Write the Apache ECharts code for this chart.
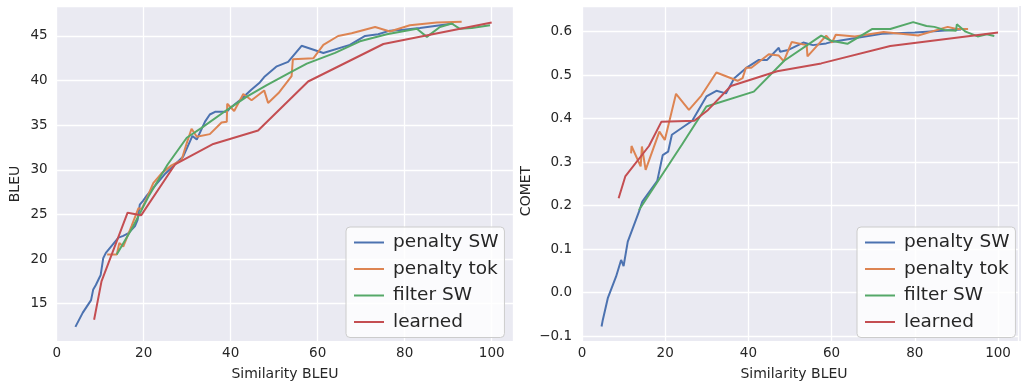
<!DOCTYPE html>
<html>
<head>
<meta charset="utf-8">
<script src="https://cdn.jsdelivr.net/npm/echarts@6/dist/echarts.min.js"></script>
<style>
  html, body { margin: 0; padding: 0; background: #ffffff; }
  #chart { width: 1021px; height: 383px; }
</style>
</head>
<body>
<div id="chart"></div>
<script>
// Series names shared by both panels
const seriesNames = ['penalty SW', 'penalty tok', 'filter SW', 'learned'];
const seriesColors = ['#4C72B0', '#DD8452', '#55A868', '#C44E52'];

// Axis tick values
const xTicks = [0, 20, 40, 60, 80, 100];
const bleuTicks = [15, 20, 25, 30, 35, 40, 45];
const cometTicks = [-0.1, 0.0, 0.1, 0.2, 0.3, 0.4, 0.5, 0.6];

// BLEU vs. similarity BLEU, [similarity, score]
const bleuPenaltySW = [[4.3,12.4],[6.0,14.0],[7.9,15.4],[8.4,16.6],[9.0,17.1],[9.8,17.9],[10.1,18.2],[10.7,20.1],[11.3,20.7],[14.2,22.4],[15.3,22.6],[16.5,22.9],[18.0,23.7],[18.6,24.4],[19.1,26.1],[19.8,26.5],[20.7,27.1],[25.0,29.6],[29.1,31.5],[31.2,33.8],[32.2,33.4],[34.1,35.4],[35.2,36.2],[36.4,36.5],[39.1,36.5],[39.8,36.9],[42.1,37.8],[44.8,39.0],[46.7,39.8],[47.7,40.4],[50.6,41.6],[53.2,42.1],[56.3,43.9],[61.3,43.1],[67.4,44.0],[70.9,45.0],[73.9,45.2],[76.6,45.6],[79.7,45.7],[83.5,45.9],[91.2,46.4]];
const bleuPenaltyTok = [[11.6,20.5],[13.8,20.5],[14.4,21.8],[15.3,21.4],[17.2,23.7],[18.8,25.7],[19.5,25.6],[20.7,26.8],[22.2,28.5],[24.1,29.6],[26.4,30.5],[28.7,31.1],[29.9,33.0],[31.0,34.6],[32.2,33.7],[35.2,34.0],[37.9,35.3],[39.1,35.4],[39.2,37.4],[40.8,36.6],[42.9,38.5],[44.8,37.8],[47.7,38.9],[48.6,37.5],[51.0,38.6],[54.0,40.5],[54.3,42.4],[59.0,42.5],[61.3,44.0],[64.7,45.0],[67.8,45.3],[73.2,46.0],[76.6,45.5],[81.2,46.2],[87.4,46.5],[93.1,46.6]];
const bleuFilterSW = [[13.8,20.5],[17.5,23.6],[21.1,27.0],[25.5,30.6],[29.9,33.6],[33.3,34.7],[39.1,36.7],[43.7,38.2],[48.3,39.5],[53.6,40.9],[57.5,41.9],[64.0,43.1],[69.7,44.4],[75.9,45.2],[82.8,45.8],[85.1,44.9],[88.1,46.0],[90.8,46.4],[92.7,45.8],[95.4,45.9],[99.6,46.2]];
const bleuLearned = [[8.6,13.2],[10.3,17.5],[16.3,25.2],[19.4,24.9],[27.2,30.6],[36.0,32.9],[46.3,34.4],[57.8,39.9],[75.1,44.1],[100.0,46.5]];

// COMET vs. similarity BLEU, [similarity, score]
const cometPenaltySW = [[4.7,-0.078],[5.0,-0.063],[6.2,-0.013],[8.2,0.037],[9.4,0.075],[10.0,0.061],[11.0,0.117],[13.7,0.186],[14.5,0.209],[18.1,0.257],[19.4,0.316],[20.7,0.324],[21.6,0.363],[26.5,0.395],[29.9,0.451],[32.3,0.464],[34.6,0.458],[36.6,0.493],[39.4,0.516],[42.5,0.535],[44.5,0.535],[47.3,0.563],[47.6,0.554],[49.6,0.558],[53.2,0.575],[55.5,0.569],[58.7,0.573],[60.3,0.577],[72.1,0.595],[80.0,0.598],[91.1,0.605]];
const cometPenaltyTok = [[11.8,0.320],[11.9,0.337],[14.1,0.290],[14.4,0.336],[15.3,0.282],[18.6,0.370],[19.9,0.351],[22.6,0.457],[25.7,0.420],[28.7,0.453],[32.3,0.506],[37.4,0.487],[38.6,0.493],[39.4,0.517],[40.7,0.517],[44.9,0.548],[47.3,0.545],[48.5,0.532],[50.4,0.576],[54.0,0.569],[54.2,0.543],[58.7,0.591],[60.1,0.575],[61.0,0.593],[65.6,0.589],[72.5,0.599],[80.8,0.591],[87.9,0.611],[90.0,0.606],[92.8,0.606]];
const cometFilterSW = [[13.7,0.190],[24.0,0.340],[29.9,0.428],[41.3,0.462],[48.6,0.533],[57.5,0.591],[59.9,0.579],[63.8,0.572],[69.7,0.606],[74.1,0.606],[79.6,0.622],[82.8,0.613],[84.7,0.611],[87.1,0.604],[89.9,0.602],[90.1,0.617],[92.2,0.600],[95.1,0.589],[97.3,0.594],[99.1,0.590]];
const cometLearned = [[8.8,0.217],[10.4,0.267],[16.1,0.337],[19.1,0.393],[27.0,0.395],[30.3,0.420],[35.8,0.475],[46.9,0.509],[57.5,0.527],[74.1,0.567],[100.0,0.598]];

const bleuSeries = [bleuPenaltySW, bleuPenaltyTok, bleuFilterSW, bleuLearned];
const cometSeries = [cometPenaltySW, cometPenaltyTok, cometFilterSW, cometLearned];

const FONT = "'DejaVu Sans', 'Liberation Sans', sans-serif";
const TEXT = '#262626';
const PANEL = '#EAEAF2';
const LINE_W = 2;

// Panel rectangles (pixel frame of each axes area)
const panels = [
  { x: 56.7, y: 6, w: 456.3, h: 335 },
  { x: 582, y: 6, w: 442.8, h: 335 }
];

function near(v, list) {
  for (const t of list) if (Math.abs(v - t) < 1e-6) return t;
  return null;
}
function fmtMinus(s) { return s.replace('-', '\u2212'); }

const chart = echarts.init(document.getElementById('chart'), null, { renderer: 'canvas' });

function xAxisFor(gridIndex, max, offset) {
  return {
    type: 'value', gridIndex, min: 0, max, interval: 20, offset,
    axisLine: { show: false }, axisTick: { show: false },
    axisLabel: {
      margin: 5, fontSize: 13.5, color: TEXT, fontFamily: FONT,
      formatter: v => { const t = near(v, xTicks); return t === null ? '' : String(t); }
    },
    splitLine: { show: true, lineStyle: { color: '#ffffff', width: 1.3 } }
  };
}

function axisTitle(text, x, y, vertical) {
  return {
    type: 'text', x, y, z: 100, silent: true,
    rotation: vertical ? Math.PI / 2 : 0,
    style: { text, align: 'center', verticalAlign: 'middle', fontSize: 14, fontFamily: FONT, fill: TEXT }
  };
}

const option = {
  backgroundColor: '#ffffff',
  animation: false,
  grid: [
    { left: 56.7, top: 6, width: 456.3, height: 342.3, containLabel: false },
    { left: 582, top: 6, width: 442.8, height: 373.5, containLabel: false }
  ],
  xAxis: [
    xAxisFor(0, 104.9, -7.3),
    xAxisFor(1, 104.8, -38.5)
  ],
  yAxis: [
    {
      type: 'value', gridIndex: 0, min: 10, max: 48.36, interval: 5,
      axisLine: { show: false }, axisTick: { show: false },
      axisLabel: {
        margin: 9, fontSize: 13.5, color: TEXT, fontFamily: FONT,
        formatter: v => { const t = near(v, bleuTicks); return t === null ? '' : String(t); }
      },
      splitLine: { show: true, lineStyle: { color: '#ffffff', width: 1.3 } }
    },
    {
      type: 'value', gridIndex: 1, min: -0.2, max: 0.659, interval: 0.1,
      axisLine: { show: false }, axisTick: { show: false },
      axisLabel: {
        margin: 10, fontSize: 13.5, color: TEXT, fontFamily: FONT,
        formatter: v => { const t = near(v, cometTicks); return t === null ? '' : fmtMinus(t.toFixed(1)); }
      },
      splitLine: { show: true, lineStyle: { color: '#ffffff', width: 1.3 } }
    }
  ],
  legend: [0, 1].map(i => ({
    orient: 'vertical',
    left: i === 0 ? 346 : 857,
    top: 227,
    data: seriesNames,
    itemWidth: 30,
    itemHeight: 14,
    itemGap: 5.5,
    padding: [5, 6, 5, 7],
    backgroundColor: 'rgba(255,255,255,0.8)',
    borderColor: '#cccccc',
    borderWidth: 1,
    borderRadius: 4,
    selectedMode: false,
    itemStyle: { opacity: 0 },
    lineStyle: { width: LINE_W },
    textStyle: { fontSize: 18.5, color: TEXT, fontFamily: FONT, lineHeight: 21, padding: [0, 0, 0, 4] }
  })),
  graphic: [
    ...panels.map(p => ({
      type: 'rect', z: -10, silent: true,
      shape: { x: p.x, y: p.y, width: p.w, height: p.h },
      style: { fill: PANEL }
    })),
    axisTitle('Similarity BLEU', 285, 374, false),
    axisTitle('Similarity BLEU', 794, 374, false),
    axisTitle('BLEU', 15, 184, true),
    axisTitle('COMET', 526, 191, true)
  ],
  series: [
    ...bleuSeries.map((d, i) => ({
      name: seriesNames[i], type: 'line', xAxisIndex: 0, yAxisIndex: 0,
      data: d, symbol: 'none', color: seriesColors[i],
      lineStyle: { width: LINE_W, color: seriesColors[i] }
    })),
    ...cometSeries.map((d, i) => ({
      name: seriesNames[i], type: 'line', xAxisIndex: 1, yAxisIndex: 1,
      data: d, symbol: 'none', color: seriesColors[i],
      lineStyle: { width: LINE_W, color: seriesColors[i] }
    }))
  ]
};

chart.setOption(option);
</script>
</body>
</html>
